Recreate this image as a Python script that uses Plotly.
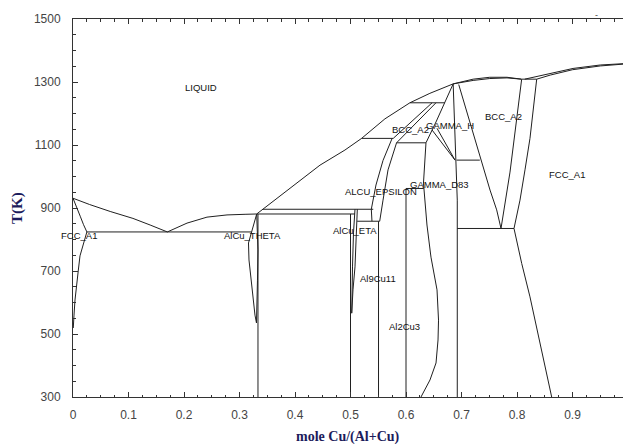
import plotly.graph_objects as go

# ---------------- data (mole fraction Cu, temperature K) ----------------
al_liq_x = [0, 0.03, 0.067, 0.108, 0.139, 0.17]
al_liq_T = [931, 911, 889, 867, 846, 824]
fcc_al_sol_x = [0, 0.008, 0.013, 0.019, 0.025]
fcc_al_sol_T = [931, 899, 874, 847, 824]
fcc_al_solv_x = [0.025, 0.0186, 0.0126, 0.0096, 0.0063, 0.0036, 0.0018, 0.0005]
fcc_al_solv_T = [824, 788, 748, 703, 655, 608, 560, 519]
eut_x = [0.025, 0.3216]
eut_T = [824, 824]
liq_theta_x = [0.17, 0.2054, 0.2414, 0.2775, 0.31, 0.331]
liq_theta_T = [824, 852, 871, 878, 880, 881]
theta_l_x = [0.331, 0.3216, 0.3162, 0.3171, 0.3207, 0.3243, 0.3279, 0.3306]
theta_l_T = [881, 824, 789, 735, 671, 608, 560, 535]
theta_r_x = [0.331, 0.3324, 0.3333, 0.3324, 0.3315, 0.3306]
theta_r_T = [881, 824, 767, 671, 608, 535]
theta_line_x = [0.3333, 0.3333]
theta_line_T = [881, 300]
per_881_x = [0.331, 0.508]
per_881_T = [881, 881]
per_896_x = [0.342, 0.541]
per_896_T = [896, 896]
liq_high_x = [0.331, 0.391, 0.445, 0.49, 0.52, 0.562, 0.607, 0.643, 0.685, 0.721, 0.751, 0.782, 0.808]
liq_high_T = [881, 963, 1036, 1084, 1121, 1183, 1234, 1264, 1294, 1309, 1315, 1315, 1309]
bcc_sol_x = [0.685, 0.721, 0.751, 0.782, 0.808]
bcc_sol_T = [1294, 1305, 1311, 1313, 1309]
fcc_liq_x = [0.814, 0.841, 0.901, 0.95, 1.0]
fcc_liq_T = [1309, 1320, 1343, 1354, 1359]
fcc_sol_x = [0.8355, 0.86, 0.9, 0.95, 1.0]
fcc_sol_T = [1309, 1322, 1339, 1351, 1358]
per_1309_x = [0.8084, 0.8355]
per_1309_T = [1309, 1309]
per_1121_x = [0.52, 0.577]
per_1121_T = [1121, 1121]
bcc_eps_l_x = [0.577, 0.647]
bcc_eps_l_T = [1121, 1234]
bcc_eps_r_x = [0.583, 0.654]
bcc_eps_r_T = [1107, 1234]
per_1234_x = [0.607, 0.67]
per_1234_T = [1234, 1234]
eutd_1107_x = [0.583, 0.636]
eutd_1107_T = [1107, 1107]
eps_l_x = [0.575, 0.5586, 0.5459, 0.5375, 0.5387]
eps_l_T = [1121, 1051, 973, 896, 858]
eps_r_x = [0.583, 0.5676, 0.5586, 0.5526]
eps_r_T = [1107, 1021, 925, 858]
eps_bot_x = [0.512, 0.5526]
eps_bot_T = [858, 858]
eta_l_x = [0.5081, 0.5054, 0.5036, 0.5022]
eta_l_T = [896, 821, 713, 566]
eta_r_x = [0.5123, 0.5108, 0.5081, 0.5045, 0.5022]
eta_r_T = [896, 821, 713, 640, 566]
alcu_x = [0.5, 0.5]
alcu_T = [881, 300]
al9cu11_x = [0.5505, 0.5505]
al9cu11_T = [858, 300]
al2cu3_x = [0.6, 0.6]
al2cu3_T = [962, 300]
per_962_x = [0.6, 0.632]
per_962_T = [962, 962]
gam_l_x = [0.685, 0.67, 0.654, 0.636, 0.6315, 0.6378, 0.645, 0.6559, 0.6586, 0.6577, 0.6541, 0.6432, 0.627]
gam_l_T = [1294, 1234, 1173, 1107, 979, 846, 744, 640, 544, 481, 408, 354, 300]
gamh_band1_x = [0.6468, 0.6883]
gamh_band1_T = [1148, 1052]
gamh_band2_x = [0.6559, 0.6883]
gamh_band2_T = [1153, 1052]
gam_r_x = [0.685, 0.688, 0.691, 0.6924, 0.6924]
gam_r_T = [1294, 1148, 1052, 925, 300]
h_1052_x = [0.691, 0.733]
h_1052_T = [1052, 1052]
bcc_l_x = [0.695, 0.7094, 0.7213, 0.7333, 0.7423, 0.7514, 0.7634, 0.7712]
bcc_l_T = [1292, 1206, 1132, 1058, 1005, 957, 894, 835]
bcc_r_x = [0.8084, 0.798, 0.7874, 0.7712]
bcc_r_T = [1309, 1163, 1014, 835]
fcc_cu_l_x = [0.8355, 0.8234, 0.8144, 0.8054, 0.7946]
fcc_cu_l_T = [1309, 1121, 1021, 925, 835]
eutd_835_x = [0.6924, 0.7946]
eutd_835_T = [835, 835]
fcc_cu_solv_x = [0.7946, 0.8085, 0.8234, 0.8414, 0.8625]
fcc_cu_solv_T = [835, 724, 618, 470, 300]

phase_names = ["LIQUID", "FCC_A1", "AlCu_THETA", "AlCu_ETA", "Al9Cu11", "Al2Cu3",
               "ALCU_EPSILON", "GAMMA_D83", "BCC_A2", "GAMMA_H", "BCC_A2", "FCC_A1"]
phase_x = [0.231, 0.011, 0.323, 0.508, 0.549, 0.598, 0.555, 0.661, 0.609, 0.68, 0.776, 0.89]
phase_T = [1282, 812, 812, 830, 677, 525, 952, 975, 1148, 1163, 1190, 1005]

x_ticks = [0, 0.1, 0.2, 0.3, 0.4, 0.5, 0.6, 0.7, 0.8, 0.9]
x_tick_text = ["0", "0.1", "0.2", "0.3", "0.4", "0.5", "0.6", "0.7", "0.8", "0.9"]
y_ticks = [300, 500, 700, 900, 1100, 1300, 1500]

curves = [
    (al_liq_x, al_liq_T), (fcc_al_sol_x, fcc_al_sol_T), (fcc_al_solv_x, fcc_al_solv_T),
    (eut_x, eut_T), (liq_theta_x, liq_theta_T), (theta_l_x, theta_l_T), (theta_r_x, theta_r_T),
    (theta_line_x, theta_line_T), (per_881_x, per_881_T), (per_896_x, per_896_T),
    (liq_high_x, liq_high_T), (bcc_sol_x, bcc_sol_T), (fcc_liq_x, fcc_liq_T), (fcc_sol_x, fcc_sol_T),
    (per_1309_x, per_1309_T), (per_1121_x, per_1121_T), (bcc_eps_l_x, bcc_eps_l_T),
    (bcc_eps_r_x, bcc_eps_r_T), (per_1234_x, per_1234_T), (eutd_1107_x, eutd_1107_T),
    (eps_l_x, eps_l_T), (eps_r_x, eps_r_T), (eps_bot_x, eps_bot_T), (eta_l_x, eta_l_T),
    (eta_r_x, eta_r_T), (alcu_x, alcu_T), (al9cu11_x, al9cu11_T), (al2cu3_x, al2cu3_T),
    (per_962_x, per_962_T), (gam_l_x, gam_l_T), (gamh_band1_x, gamh_band1_T),
    (gamh_band2_x, gamh_band2_T), (gam_r_x, gam_r_T), (h_1052_x, h_1052_T),
    (bcc_l_x, bcc_l_T), (bcc_r_x, bcc_r_T), (fcc_cu_l_x, fcc_cu_l_T), (eutd_835_x, eutd_835_T),
    (fcc_cu_solv_x, fcc_cu_solv_T),
]

fig = go.Figure()
for cx, cy in curves:
    fig.add_trace(go.Scatter(x=cx, y=cy, mode="lines",
                             line=dict(color="#202020", width=1),
                             showlegend=False, hoverinfo="skip"))

for name, px_, pT in zip(phase_names, phase_x, phase_T):
    fig.add_annotation(x=px_, y=pT, text=name, showarrow=False,
                       font=dict(family="Liberation Sans, Arial", size=9.5, color="#111111"),
                       xanchor="center", yanchor="middle")

fig.add_annotation(xref="paper", yref="paper", x=0.5, y=-0.107, text="<b>mole Cu/(Al+Cu)</b>",
                   showarrow=False, xanchor="center", yanchor="middle",
                   font=dict(family="Liberation Serif, Times New Roman", size=14, color="#1c1c5c"))
fig.add_annotation(xref="paper", yref="paper", x=-0.102, y=0.5, text="<b>T(K)</b>", textangle=-90,
                   showarrow=False, xanchor="center", yanchor="middle",
                   font=dict(family="Liberation Serif, Times New Roman", size=15, color="#1c1c5c"))
fig.add_annotation(xref="paper", yref="paper", x=0.958, y=1.03, text="-", showarrow=False,
                   font=dict(family="Liberation Sans", size=9, color="#444444"))

axis_font = dict(family="Liberation Sans, Arial", size=12, color="#444444")
fig.update_layout(
    width=623, height=444,
    margin=dict(l=73, r=0, t=19, b=47, autoexpand=False),
    paper_bgcolor="white", plot_bgcolor="white",
    xaxis=dict(range=[0, 0.991], tickvals=x_ticks, ticktext=x_tick_text, automargin=False,
               ticks="inside", ticklen=5, tickcolor="#333333", tickwidth=1,
               showline=True, linecolor="#333333", linewidth=1, mirror="ticks",
               showgrid=False, zeroline=False, tickfont=axis_font, ticklabelstandoff=7,
               minor=dict(dtick=0.025, tick0=0, ticks="inside", ticklen=2.5, tickcolor="#333333",
                          showgrid=False)),
    yaxis=dict(range=[300, 1500], tickvals=y_ticks, automargin=False,
               ticks="inside", ticklen=5, tickcolor="#333333", tickwidth=1,
               showline=True, linecolor="#333333", linewidth=1, mirror=False,
               showgrid=False, zeroline=False, tickfont=axis_font, ticklabelstandoff=9,
               minor=dict(dtick=50, tick0=300, ticks="inside", ticklen=2.5, tickcolor="#333333",
                          showgrid=False)),
)

fig.write_html("out.html", config={"displayModeBar": False},
               post_script="document.body.style.margin='0';document.body.style.overflow='hidden';")
